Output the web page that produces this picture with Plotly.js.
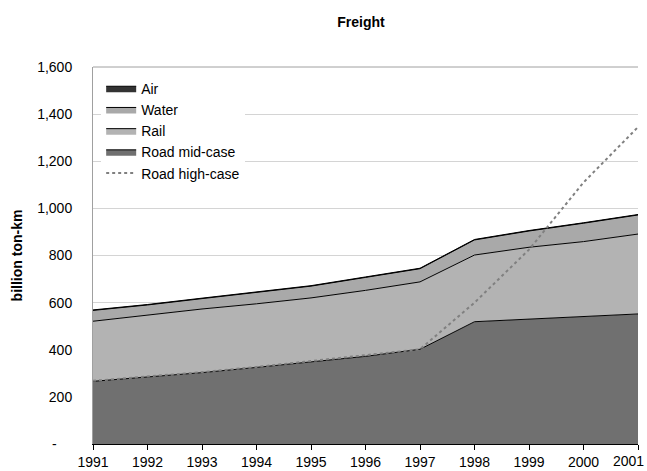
<!DOCTYPE html>
<html><head><meta charset="utf-8">
<script src="https://cdn.plot.ly/plotly-3.0.1.min.js"></script>
<style>html,body{margin:0;padding:0;background:#fff}#chart{width:647px;height:471px}</style>
</head><body><div id="chart"></div>
<script>
const years = [1991,1992,1993,1994,1995,1996,1997,1998,1999,2000,2001];
const xTickText = ['1991','1992','1993','1994','1995','1996','1997','1998','1999','2000','2001'];
const roadMid = [266,284,303,325,350,372,402,519,530,541,552];
const rail = [255,264,270,270,270,280,286,283,305,318,339];
const water = [46,42,44,48,50,55,56,64,69,78,81];
const air = [2,2,2,2,2,2,2,2,2,2,2];
const roadHigh = [268,286,305,327,352,374,402,600,825,1110,1345];
const yTickVals = [0,200,400,600,800,1000,1200,1400,1600];
const yTickText = ['-\u00a0\u00a0\u00a0\u00a0','200','400','600','800','1,000','1,200','1,400','1,600'];

const font = {family:'"Liberation Sans", Arial, sans-serif', size:14, color:'#000'};
const traces = [
 {x:years,y:roadMid,name:'Road mid-case',stackgroup:'one',mode:'lines',line:{color:'#000',width:1},fillcolor:'#707070',legendrank:4},
 {x:years,y:rail,name:'Rail',stackgroup:'one',mode:'lines',line:{color:'#000',width:1},fillcolor:'#b3b3b3',legendrank:3},
 {x:years,y:water,name:'Water',stackgroup:'one',mode:'lines',line:{color:'#000',width:1},fillcolor:'#a9a9a9',legendrank:2},
 {x:years,y:air,name:'Air',stackgroup:'one',mode:'lines',line:{color:'#000',width:1},fillcolor:'#333333',legendrank:1},
 {x:years,y:roadHigh,name:'Road high-case',mode:'lines',line:{color:'#808080',width:2,dash:'dot'},legendrank:5}
];
// last tick label is nudged left to stay inside the page, as in the reference
const lastIdx = years.length - 1;
const shownTickText = xTickText.map((t,i)=> i===lastIdx ? '' : t);
const layout = {
 width:647,height:471,
 margin:{l:93,r:9,t:67,b:27},
 paper_bgcolor:'#fff',plot_bgcolor:'#fff',
 font:font,
 title:{text:'<b>Freight</b>',xref:'container',x:0.558,xanchor:'center',y:0.953,yanchor:'middle',font:{family:font.family,size:14,color:'#000'}},
 showlegend:true,
 legend:{traceorder:'normal',x:0.015,y:0.985,xanchor:'left',yanchor:'top',bgcolor:'#fff',borderwidth:0,font:{family:font.family,size:14,color:'#000'},tracegroupgap:0,itemwidth:30},
 xaxis:{range:[1991,2001],tickvals:years,ticktext:shownTickText,ticklabelstandoff:0,showgrid:false,zeroline:false,showline:true,linecolor:'#000',linewidth:1,ticks:'outside',ticklen:5,tickcolor:'#000',tickfont:font,fixedrange:true},
 yaxis:{range:[0,1600],tickvals:yTickVals,ticktext:yTickText,showgrid:true,gridcolor:'#d4d4d4',gridwidth:1,zeroline:false,showline:true,linecolor:'#a0a0a0',ticks:'',tickfont:font,ticklabelstandoff:17,
   title:{text:'<b>billion ton-km</b>',font:{family:font.family,size:14,color:'#000'},standoff:11}},
 annotations:[{x:years[lastIdx],xref:'x',y:0,yref:'paper',text:xTickText[lastIdx],showarrow:false,xanchor:'right',yanchor:'top',xshift:8,yshift:-7,font:font}],
 shapes:[{type:'line',xref:'paper',yref:'paper',x0:0,x1:1,y0:1,y1:1,line:{color:'#a0a0a0',width:1}}]
};
Plotly.newPlot('chart',traces,layout,{displayModeBar:false,staticPlot:true});
</script></body></html>
